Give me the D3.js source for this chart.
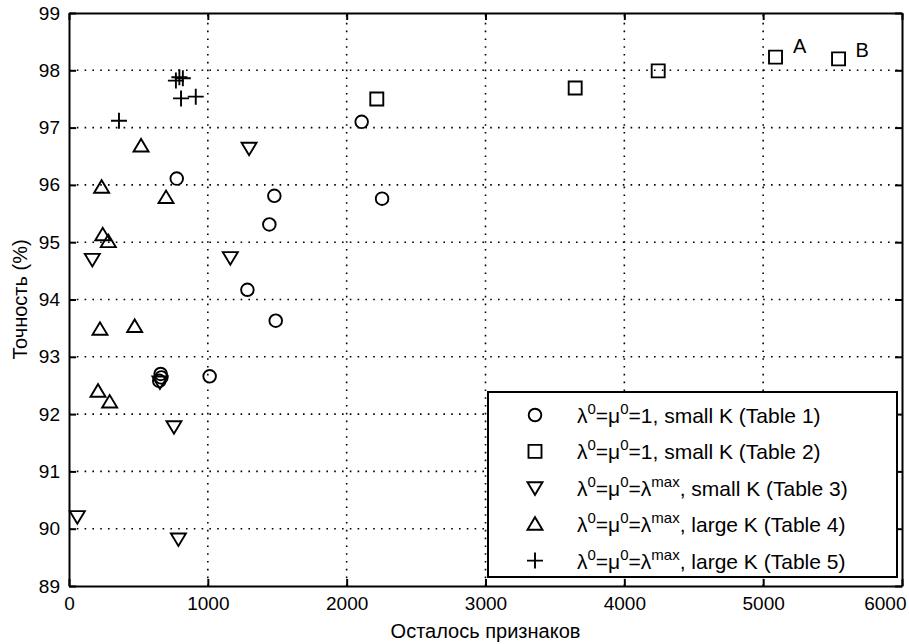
<!DOCTYPE html>
<html>
<head>
<meta charset="utf-8">
<script src="https://cdn.jsdelivr.net/npm/d3@7"></script>
<style>
  body { margin: 0; background: #fff; }
  svg text { font-family: "Liberation Sans", Arial, sans-serif; fill: #000; }
</style>
</head>
<body>
<div id="chart"></div>
<script>
// Table 1: lambda0 = mu0 = 1, small K
const t1X = [776, 1443, 1479, 1285, 1489, 1013, 2108, 2255, 650, 660, 665];
const t1Y = [96.11, 95.31, 95.81, 94.17, 93.63, 92.66, 97.10, 95.76, 92.58, 92.70, 92.64];
// Table 2
const t2X = [2217, 3646, 4244, 5089, 5543];
const t2Y = [97.50, 97.69, 97.99, 98.23, 98.20];
// Table 3: lambda max, small K
const t3X = [60, 168, 655, 756, 788, 1162, 1297];
const t3Y = [90.21, 94.70, 92.56, 91.78, 89.82, 94.73, 96.64];
// Table 4: lambda max, large K
const t4X = [209, 223, 235, 243, 283, 293, 473, 519, 699];
const t4Y = [92.40, 93.48, 95.96, 95.13, 95.01, 92.21, 93.53, 96.68, 95.78];
// Table 5
const t5X = [360, 770, 795, 807, 820, 913];
const t5Y = [97.12, 97.82, 97.88, 97.51, 97.86, 97.54];

const noteText = ['A', 'B'];
const noteX = [5215, 5665];
const noteY = [98.30, 98.24];

const xTicks = [0, 1000, 2000, 3000, 4000, 5000, 6000];
const yTicks = [89, 90, 91, 92, 93, 94, 95, 96, 97, 98, 99];

const legendMarks = ['circle', 'square', 'down', 'up', 'plus'];
const legendSup = ['1', '1', 'max', 'max', 'max'];
const legendTail = [', small K (Table 1)', ', small K (Table 2)', ', small K (Table 3)',
                    ', large K (Table 4)', ', large K (Table 5)'];

const W = 909, H = 644;
const pLeft = 69, pRight = 902, pTop = 13, pBottom = 586;

const x = d3.scaleLinear().domain([0, 6000]).range([pLeft, pRight]);
const y = d3.scaleLinear().domain([89, 99]).range([pBottom, pTop]);

const svg = d3.select('#chart').append('svg')
    .attr('width', W).attr('height', H);

// dotted grid
const grid = svg.append('g')
    .attr('stroke', '#000')
    .attr('stroke-width', 1.6)
    .attr('stroke-dasharray', '1.6,6.2');
grid.selectAll('.gx').data(xTicks.slice(1, -1)).enter().append('line')
    .attr('x1', d => x(d)).attr('x2', d => x(d))
    .attr('y1', pBottom).attr('y2', pTop);
grid.selectAll('.gy').data(yTicks.slice(1, -1)).enter().append('line')
    .attr('y1', d => y(d)).attr('y2', d => y(d))
    .attr('x1', pLeft).attr('x2', pRight);

// marker paths
function markerPath(kind) {
    switch (kind) {
        case 'circle': return d3.arc()({innerRadius: 0, outerRadius: 6.3, startAngle: 0, endAngle: 2 * Math.PI});
        case 'square': return 'M-6.5,-6.5H6.5V6.5H-6.5Z';
        case 'down': return 'M-7.5,-5.5H7.5L0,7Z';
        case 'up': return 'M-7.5,5.5H7.5L0,-7Z';
        case 'plus': return 'M-8,0H8M0,-8V8';
    }
}

function drawSeries(xs, ys, kind) {
    svg.append('g').selectAll('path')
        .data(xs.map((v, i) => [v, ys[i]]))
        .enter().append('path')
        .attr('transform', d => `translate(${x(d[0])},${y(d[1])})`)
        .attr('d', markerPath(kind))
        .attr('fill', 'none')
        .attr('stroke', '#000')
        .attr('stroke-width', 1.9);
}

drawSeries(t4X, t4Y, 'up');
drawSeries(t3X, t3Y, 'down');
drawSeries(t1X, t1Y, 'circle');
drawSeries(t2X, t2Y, 'square');
drawSeries(t5X, t5Y, 'plus');

svg.append('g').selectAll('text')
    .data(noteText).enter().append('text')
    .attr('x', (d, i) => x(noteX[i]))
    .attr('y', (d, i) => y(noteY[i]))
    .style('font-size', '20px')
    .text(d => d);

// axes: inside ticks on all four sides
function styleAxis(g) {
    g.select('.domain').attr('stroke-width', 2);
    g.selectAll('.tick line').attr('stroke-width', 2);
    g.selectAll('text').style('font-size', '19px').attr('fill', '#000');
}

const bottomAxis = svg.append('g').attr('transform', `translate(0,${pBottom})`)
    .call(d3.axisBottom(x).tickValues(xTicks).tickFormat(d3.format('d'))
        .tickSize(-7).tickSizeOuter(0).tickPadding(11))
    .call(styleAxis);
// last label pulled in so it stays inside the page
bottomAxis.selectAll('.tick text')
    .filter(d => d === 6000)
    .attr('text-anchor', 'end').attr('x', 4);
svg.append('g').attr('transform', `translate(0,${pTop})`)
    .call(d3.axisTop(x).tickValues(xTicks).tickSize(-7).tickSizeOuter(0).tickFormat(''))
    .call(styleAxis);
svg.append('g').attr('transform', `translate(${pLeft},0)`)
    .call(d3.axisLeft(y).tickValues(yTicks).tickSize(-7).tickSizeOuter(0).tickPadding(9))
    .call(styleAxis);
svg.append('g').attr('transform', `translate(${pRight},0)`)
    .call(d3.axisRight(y).tickValues(yTicks).tickSize(-7).tickSizeOuter(0).tickFormat(''))
    .call(styleAxis);

// axis titles
svg.append('text')
    .attr('x', (pLeft + pRight) / 2).attr('y', 638)
    .attr('text-anchor', 'middle')
    .style('font-size', '20px')
    .text('Осталось признаков');
svg.append('text')
    .attr('transform', `translate(27,${(pTop + pBottom) / 2}) rotate(-90)`)
    .attr('text-anchor', 'middle')
    .style('font-size', '20px')
    .text('Точность (%)');

// legend
const lg = svg.append('g');
lg.append('rect')
    .attr('x', 488).attr('y', 392).attr('width', 409).attr('height', 185)
    .attr('fill', '#fff').attr('stroke', '#000').attr('stroke-width', 2);

legendMarks.forEach((kind, i) => {
    const ry = 415 + i * 36.4;
    lg.append('path')
        .attr('transform', `translate(535,${ry})`)
        .attr('d', markerPath(kind))
        .attr('fill', 'none').attr('stroke', '#000').attr('stroke-width', 1.9);
    const t = lg.append('text')
        .attr('x', 577).attr('y', ry + 8)
        .style('font-size', '21px');
    t.append('tspan').text('λ');
    t.append('tspan').attr('dy', -9).style('font-size', '15px').text('0');
    t.append('tspan').attr('dy', 9).text('=μ');
    t.append('tspan').attr('dy', -9).style('font-size', '15px').text('0');
    if (legendSup[i] === 'max') {
        t.append('tspan').attr('dy', 9).text('=λ');
        t.append('tspan').attr('dy', -9).style('font-size', '15px').text('max');
        t.append('tspan').attr('dy', 9).text(legendTail[i]);
    } else {
        t.append('tspan').attr('dy', 9).text('=1' + legendTail[i]);
    }
});
</script>
</body>
</html>
